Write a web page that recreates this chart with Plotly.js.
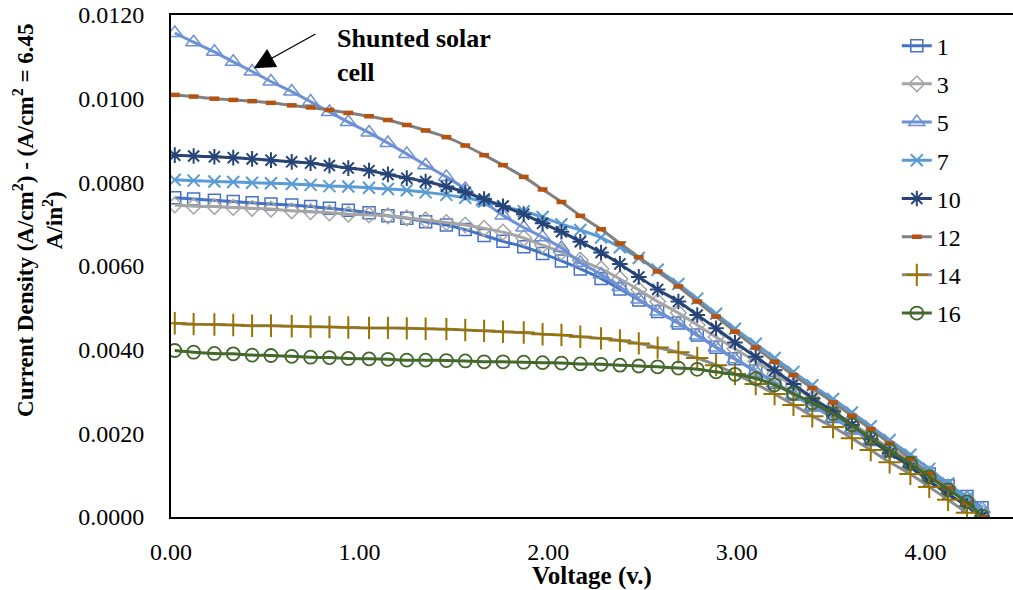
<!DOCTYPE html>
<html>
<head>
<meta charset="utf-8">
<script src="https://cdn.plot.ly/plotly-3.0.1.min.js"></script>
<style>
  html, body { margin: 0; padding: 0; background: #fff; overflow: hidden; }
  #chart { width: 1013px; height: 590px; }
</style>
</head>
<body>
<div id="chart"></div>
<script>
// Voltage (V)
const voltage = [0.02,0.12,0.23,0.33,0.43,0.53,0.64,0.74,0.84,0.94,1.05,1.15,1.25,1.35,1.46,1.56,1.66,1.76,1.87,1.97,2.07,2.17,2.28,2.38,2.48,2.58,2.69,2.79,2.89,2.99,3.10,3.20,3.30,3.40,3.51,3.61,3.71,3.81,3.92,4.02,4.12,4.22,4.30];

// Current density (A/cm2) per cell
const cell1  = [0.00763,0.00760,0.00757,0.00754,0.00751,0.00748,0.00746,0.00742,0.00738,0.00733,0.00727,0.00720,0.00714,0.00706,0.00698,0.00687,0.00673,0.00659,0.00646,0.00630,0.00612,0.00593,0.00570,0.00545,0.00519,0.00491,0.00464,0.00435,0.00406,0.00378,0.00349,0.00322,0.00294,0.00268,0.00240,0.00213,0.00185,0.00158,0.00130,0.00103,0.00075,0.00049,0.00022];
const cell3  = [0.00746,0.00743,0.00742,0.00740,0.00738,0.00736,0.00732,0.00730,0.00727,0.00724,0.00722,0.00720,0.00715,0.00710,0.00704,0.00698,0.00690,0.00681,0.00667,0.00650,0.00633,0.00614,0.00593,0.00569,0.00543,0.00515,0.00488,0.00459,0.00430,0.00402,0.00372,0.00342,0.00313,0.00283,0.00253,0.00224,0.00194,0.00164,0.00134,0.00103,0.00072,0.00041,0.00010];
const cell5  = [0.01157,0.01135,0.01112,0.01088,0.01065,0.01041,0.01017,0.00993,0.00968,0.00944,0.00919,0.00894,0.00868,0.00841,0.00813,0.00784,0.00753,0.00721,0.00692,0.00669,0.00643,0.00608,0.00580,0.00550,0.00520,0.00491,0.00463,0.00434,0.00405,0.00377,0.00348,0.00320,0.00292,0.00265,0.00237,0.00210,0.00182,0.00155,0.00127,0.00100,0.00072,0.00046,0.00020];
const cell7  = [0.00806,0.00804,0.00802,0.00801,0.00799,0.00798,0.00796,0.00794,0.00791,0.00790,0.00787,0.00784,0.00781,0.00776,0.00770,0.00763,0.00754,0.00743,0.00731,0.00717,0.00700,0.00686,0.00668,0.00645,0.00619,0.00591,0.00557,0.00522,0.00486,0.00450,0.00414,0.00380,0.00347,0.00315,0.00282,0.00250,0.00217,0.00184,0.00149,0.00115,0.00080,0.00045,0.00012];
const cell10 = [0.00865,0.00863,0.00861,0.00859,0.00856,0.00853,0.00849,0.00846,0.00840,0.00834,0.00828,0.00819,0.00810,0.00802,0.00790,0.00776,0.00760,0.00743,0.00724,0.00702,0.00682,0.00658,0.00632,0.00605,0.00574,0.00544,0.00515,0.00483,0.00451,0.00417,0.00383,0.00351,0.00318,0.00284,0.00253,0.00220,0.00186,0.00153,0.00120,0.00086,0.00055,0.00026,0.00002];
const cell12 = [0.01009,0.01005,0.01000,0.00997,0.00994,0.00990,0.00984,0.00979,0.00973,0.00966,0.00958,0.00949,0.00937,0.00924,0.00908,0.00888,0.00865,0.00841,0.00813,0.00783,0.00753,0.00720,0.00688,0.00654,0.00621,0.00587,0.00551,0.00515,0.00479,0.00443,0.00405,0.00371,0.00339,0.00308,0.00274,0.00242,0.00210,0.00176,0.00140,0.00104,0.00069,0.00033,0.00000];
const cell14 = [0.00463,0.00461,0.00460,0.00459,0.00457,0.00457,0.00456,0.00455,0.00454,0.00453,0.00452,0.00452,0.00451,0.00450,0.00449,0.00447,0.00445,0.00443,0.00441,0.00437,0.00435,0.00431,0.00427,0.00422,0.00415,0.00405,0.00394,0.00380,0.00363,0.00342,0.00318,0.00294,0.00268,0.00241,0.00215,0.00188,0.00160,0.00131,0.00103,0.00072,0.00041,0.00010];
const cell16 = [0.00398,0.00394,0.00391,0.00390,0.00387,0.00386,0.00384,0.00382,0.00381,0.00379,0.00378,0.00377,0.00375,0.00375,0.00374,0.00373,0.00371,0.00371,0.00370,0.00369,0.00368,0.00366,0.00365,0.00363,0.00361,0.00359,0.00356,0.00353,0.00347,0.00341,0.00331,0.00316,0.00295,0.00273,0.00247,0.00220,0.00189,0.00160,0.00128,0.00096,0.00065,0.00036,0.00002];

const seriesNames = ['1','3','5','7','10','12','14','16'];
const seriesData  = [cell1, cell3, cell5, cell7, cell10, cell12, cell14, cell16];

const styles = [
  {line:'#4472C4', mc:'#4472C4', sym:'square-open',      size:12, mw:1.5},
  {line:'#A5A5A5', mc:'#A5A5A5', sym:'diamond-open',     size:12, mw:1.5},
  {line:'#6C91D5', mc:'#6C91D5', sym:'triangle-up-open', size:14, mw:1.5},
  {line:'#5B9BD5', mc:'#5B9BD5', sym:'x-thin-open',      size:12, mw:2},
  {line:'#264478', mc:'#264478', sym:'asterisk-open',    size:13, mw:2},
  {line:'#808080', mc:'#B5520F', sym:'line-ew-open',     size:7,  mw:4.5},
  {line:'#8A8A8A', mc:'#997300', sym:'cross-thin-open',  size:16, mw:2},
  {line:'#43682B', mc:'#43682B', sym:'circle-open',      size:13, mw:1.8}
];

const FONT = 'Liberation Serif, Times New Roman, serif';

const traces = seriesData.map((ys, i) => ({
  x: voltage.slice(0, ys.length),
  y: ys,
  name: seriesNames[i],
  legendgroup: 'g' + i,
  type: 'scatter',
  mode: 'lines+markers',
  line: {color: styles[i].line, width: 3, shape: 'spline', smoothing: 0.6},
  marker: {symbol: styles[i].sym, size: styles[i].size, color: styles[i].mc,
           line: {color: styles[i].mc, width: styles[i].mw}}
}));

const layout = {
  width: 1013, height: 590,
  margin: {l: 171, r: 0, t: 15, b: 73},
  paper_bgcolor: '#fff', plot_bgcolor: '#fff',
  font: {family: FONT, size: 24, color: '#000'},
  showlegend: true,
  legend: {x: 0.862, y: 0.983, xanchor: 'left', yanchor: 'top',
           font: {family: FONT, size: 24, color: '#000'},
           tracegroupgap: 4, bgcolor: 'rgba(0,0,0,0)'},
  xaxis: {
    range: [0, 4.464], dtick: 1, tick0: 0, tickformat: '.2f',
    showgrid: false, zeroline: false, showline: true, mirror: true,
    linecolor: '#000', linewidth: 2, ticks: '', ticklabelstandoff: 12,
    tickfont: {family: FONT, size: 24, color: '#000'},
    title: {text: '<b>Voltage (v.)</b>', font: {family: FONT, size: 25, color: '#000'}, standoff: 0}
  },
  yaxis: {
    range: [0, 0.012], dtick: 0.002, tick0: 0, tickformat: '.4f',
    showgrid: false, zeroline: false, showline: true, mirror: false,
    linecolor: '#000', linewidth: 2, ticks: '', ticklabelstandoff: 20,
    tickfont: {family: FONT, size: 24, color: '#000'}
  },
  annotations: [
    {xref: 'paper', yref: 'paper', x: -0.1580, y: 0.5916, xanchor: 'center', yanchor: 'middle',
     textangle: -90, showarrow: false, align: 'center',
     text: '<b>Current Density (A/cm<sup>2</sup>) - (A/cm<sup>2</sup> = 6.45<br>A/in<sup>2</sup>)</b>',
     font: {family: FONT, size: 23, color: '#000'}},
    {xref: 'x', yref: 'y', x: 0.87, y: 0.01104, xanchor: 'left', yanchor: 'middle',
     showarrow: false, align: 'left',
     text: '<b>Shunted solar<br>cell</b>',
     font: {family: FONT, size: 26, color: '#000'}},
    {xref: 'x', yref: 'y', x: 0.44, y: 0.01073, text: '', showarrow: true,
     axref: 'pixel', ayref: 'pixel', ax: 63, ay: -35,
     arrowhead: 2, arrowsize: 3.2, arrowwidth: 1.3, arrowcolor: '#000', standoff: 0}
  ]
};

Plotly.newPlot('chart', traces, layout, {displayModeBar: false, staticPlot: true});
</script>
</body>
</html>
